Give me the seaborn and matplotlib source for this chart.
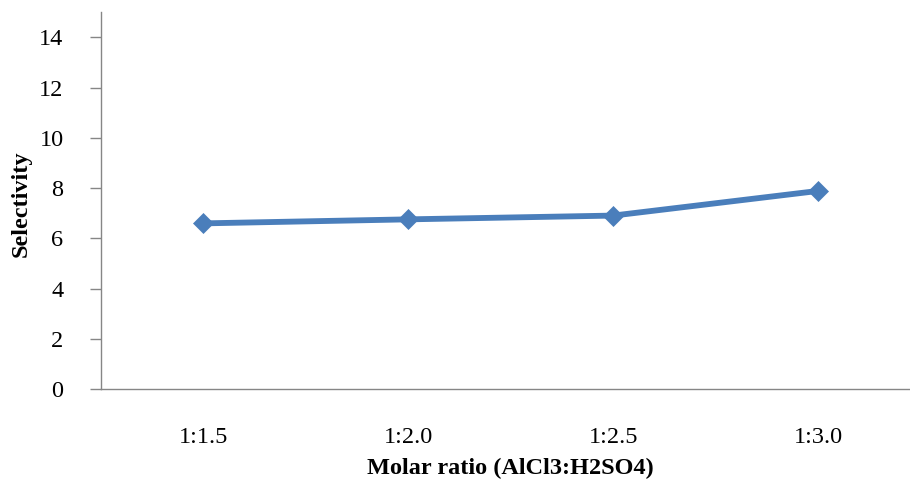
import matplotlib
matplotlib.use("Agg")
import matplotlib.pyplot as plt
import seaborn as sns
import pandas as pd

ratios = ["1:1.5", "1:2.0", "1:2.5", "1:3.0"]
selectivity = [6.60, 6.76, 6.91, 7.89]
y_ticks = [0, 2, 4, 6, 8, 10, 12, 14]

df = pd.DataFrame({"ratio": ratios, "selectivity": selectivity})

sns.set_style("white")
plt.rcParams["font.family"] = ["Liberation Serif", "DejaVu Serif"]
plt.rcParams["text.color"] = "black"
plt.rcParams["xtick.color"] = "black"
plt.rcParams["ytick.color"] = "black"

W, H = 910, 480
fig = plt.figure(figsize=(W / 100, H / 100), dpi=100)
left, right, top, bottom = 101, 920.5, 12.2, 389.3
ax = fig.add_axes([left / W, 1 - bottom / H, (right - left) / W, (bottom - top) / H])

sns.lineplot(data=df, x="ratio", y="selectivity", ax=ax, sort=False,
             color="#4A7EBB", linewidth=4.2, marker="D", markersize=10.5,
             markeredgecolor="#4A7EBB", markeredgewidth=0.5, clip_on=False)

ax.set_xlim(-0.5, len(ratios) - 0.5)
ax.set_ylim(0, 15)
ax.set_yticks(y_ticks)
ax.set_yticklabels([str(v) for v in y_ticks])

for s in ["top", "right"]:
    ax.spines[s].set_visible(False)
for s in ["left", "bottom"]:
    ax.spines[s].set_color("#868686")
    ax.spines[s].set_linewidth(1.0)

ax.tick_params(axis="y", direction="out", length=8, width=1.0, color="#868686",
               labelcolor="black", labelsize=17.5, pad=19, left=True)
ax.tick_params(axis="x", length=0, labelsize=17.5, labelcolor="black", pad=27)

ax.set_xlabel("")
ax.set_ylabel("")
fig.text(510 / W, 1 - 468 / H, "Molar ratio (AlCl3:H2SO4)", ha="center", va="center",
         fontsize=17.5, fontweight="bold", color="black")
fig.text(21 / W, 1 - 204 / H, "Selectivity", ha="center", va="center", rotation=90,
         fontsize=17.5, fontweight="bold", color="black")

fig.savefig("out.png", dpi=100)
